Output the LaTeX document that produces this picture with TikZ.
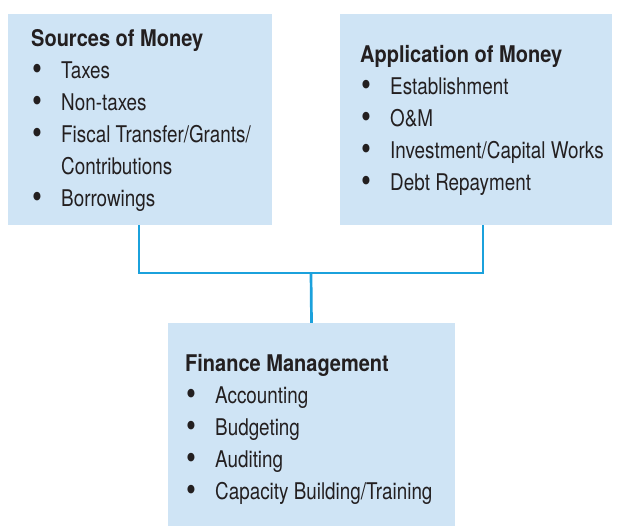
\documentclass[tikz,border=0pt]{standalone}
\usepackage{fontspec}
\usepackage{graphicx}
\setmainfont{TeX Gyre Heros}[FakeStretch=0.82, BoldFeatures={FakeStretch=0.87}]
\definecolor{boxfill}{HTML}{CFE4F5}
\definecolor{linkblue}{HTML}{1BA1DC}
\definecolor{ink}{HTML}{231F20}
\newcommand{\itm}[1]{\makebox[30pt][l]{\hspace{1pt}\raisebox{-2.2pt}{\scalebox{1.5}{\textbullet}}}#1}
\newcommand{\cont}[1]{\makebox[30pt][l]{}#1}
\begin{document}
\begin{tikzpicture}[x=1pt,y=-1pt,
  panel/.style={fill=boxfill, draw=none, inner sep=0pt},
  body/.style={anchor=west, align=left, inner sep=0pt, text=ink,
    font=\fontsize{23}{32}\selectfont},
  conn/.style={draw=linkblue, line width=2.7pt}]
  \useasboundingbox (0,0) rectangle (618,525);
  % panels
  \node[panel, minimum width=264pt, minimum height=211pt] (src) at (140,119.5) {};
  \node[panel, minimum width=272pt, minimum height=211pt] (app) at (476,119.5) {};
  \node[panel, minimum width=287pt, minimum height=203pt] (fin) at (311.5,424.5) {};
  % panel contents
  \node[body] (srctext) at (31,120.5) {\textbf{Sources of Money}\\
    \itm{Taxes}\\ \itm{Non-taxes}\\ \itm{Fiscal Transfer/Grants/}\\
    \cont{Contributions}\\ \itm{Borrowings}};
  \node[body] (apptext) at (360,120.5) {\textbf{Application of Money}\\
    \itm{Establishment}\\ \itm{O\&M}\\ \itm{Investment/Capital Works}\\
    \itm{Debt Repayment}};
  \node[body] (fintext) at (185,429) {\textbf{Finance Management}\\
    \itm{Accounting}\\ \itm{Budgeting}\\ \itm{Auditing}\\
    \itm{Capacity Building/Training}};
  % connectors
  \coordinate (join) at (311,273);
  \coordinate (appfoot) at ([xshift=7pt]app.south);
  \draw[conn] ([xshift=-1pt]src.south) |- (join -| appfoot) -- (appfoot);
  \draw[conn] (join) -- (fin.north);
\end{tikzpicture}
\end{document}
